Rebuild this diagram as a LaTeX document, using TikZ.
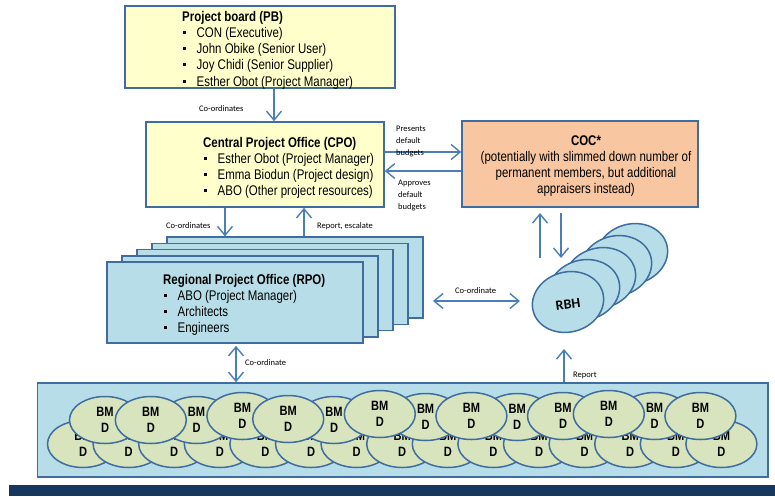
\documentclass[tikz,border=0pt]{standalone}
\usepackage{fontspec}
\setmainfont{Liberation Sans}
\newfontfamily\narrow{Liberation Sans}[FakeStretch=0.82]
\newfontfamily\lblfont{Carlito}
\usetikzlibrary{arrows.meta,shapes.geometric}

\definecolor{edge}{HTML}{3F6DA0}
\definecolor{arrowblue}{HTML}{4A7EBB}
\definecolor{paleyellow}{HTML}{FFFFCC}
\definecolor{peach}{HTML}{F8C6A0}
\definecolor{paleblue}{HTML}{B7DEE8}
\definecolor{palegreen}{HTML}{D7E4BD}
\definecolor{navy}{HTML}{17375E}

% square bullet followed by the indent of the item text
\newcommand\itm{\hspace*{1pt}\rule[3.5pt]{3pt}{3pt}\hspace*{10.5pt}}
\newcommand\topstrut{\rule{0pt}{11pt}}
\newcommand\lblstrut{\rule{0pt}{7pt}}

\begin{document}
\begin{tikzpicture}[x=1pt, y=-1pt,
  panel/.style={rectangle, draw=edge, line width=1.6pt, inner sep=0pt},
  boxtext/.style={anchor=north west, inner sep=0pt, align=left,
    font=\narrow\fontsize{14}{16.2}\selectfont},
  lbl/.style={inner sep=0pt, font=\lblfont\fontsize{8.5}{12}\selectfont},
  arr/.style={draw=arrowblue, line width=1.4pt,
    -{Straight Barb[length=9pt,width=15pt]}},
  darr/.style={draw=arrowblue, line width=1.4pt,
    {Straight Barb[length=9pt,width=15pt]}-{Straight Barb[length=9pt,width=15pt]}},
  bmd/.style={ellipse, draw=edge, line width=1.5pt, fill=palegreen,
    minimum width=71pt, minimum height=47pt, inner sep=0pt, align=center,
    font=\narrow\bfseries\fontsize{13.5}{16}\selectfont},
  rbhell/.style={ellipse, draw=edge, line width=1.5pt, fill=paleblue,
    minimum width=72pt, minimum height=60pt, rotate=15}]

\useasboundingbox (0,0) rectangle (775,496);

% ---- project board ----
\node[panel, fill=paleyellow, minimum width=270pt, minimum height=82pt] (pb) at (260,47) {};
\node[boxtext] (pbtext) at (182,10) {\topstrut\textbf{Project board (PB)}\\
  \itm CON (Executive)\\
  \itm John Obike (Senior User)\\
  \itm Joy Chidi (Senior Supplier)\\
  \itm Esther Obot (Project Manager)};

% ---- central project office ----
\node[panel, fill=paleyellow, minimum width=238pt, minimum height=85pt] (cpo) at (265,164.5) {};
\node[boxtext] (cpotext) at (203,136) {\topstrut\textbf{Central Project Office (CPO)}\\
  \itm Esther Obot (Project Manager)\\
  \itm Emma Biodun (Project design)\\
  \itm ABO (Other project resources)};

% ---- COC ----
\node[panel, fill=peach, minimum width=236pt, minimum height=86pt] (coc) at (580,164) {};
\node[boxtext, anchor=north, align=center] (coctext) at (586,134) {\topstrut\textbf{COC*}\\
  (potentially with slimmed down number of\\
  permanent members, but additional\\
  appraisers instead)};

% ---- regional project offices (stack) ----
\foreach \k in {4,3,2,1,0}
  \node[panel, fill=paleblue, minimum width=256pt, minimum height=81pt]
    (rpo\k) at ({235+15*\k},{302.5-6.2*\k}) {};
\node[boxtext] (rpotext) at (163,273) {\topstrut\textbf{Regional Project Office (RPO)}\\
  \itm ABO (Project Manager)\\
  \itm Architects\\
  \itm Engineers};

% ---- RBH stack ----
\foreach \k in {4,3,2,1,0}
  \node[rbhell] (rbh\k) at ({568+16*\k},{302-12*\k}) {};
\node[rotate=8, inner sep=0pt, font=\lblfont\bfseries\fontsize{14}{16}\selectfont]
  (rbhlabel) at (568,304) {RBH};

% ---- BMD container ----
\node[panel, fill=paleblue, minimum width=730.5pt, minimum height=94pt] (bmdbox) at (402.75,430) {};
\foreach \i in {0,...,14}
  \node[bmd] (bl\i) at ({83+45.6*\i},444) {BM\\D};
\foreach \i/\yy in {0/420,2/420,3/416,5/420,7/417,9/417,10/416,12/416,
                    1/420,4/419,6/414,8/416,11/414,13/416}
  \node[bmd] (bu\i) at ({105+45.8*\i},\yy) {BM\\D};

\fill[navy] (9,485) rectangle (775,496);

% ---- connectors ----
\draw[arr] ([xshift=14pt]pb.south) -- ([xshift=14pt]pb.south |- cpo.north);
\draw[arr] ([yshift=12.5pt]cpo.east) -- ([yshift=12.5pt]cpo.east -| coc.west);
\draw[arr] ([yshift=-6.5pt]cpo.east -| coc.west) -- ([yshift=-6.5pt]cpo.east);
\draw[arr] ([xshift=-40pt]cpo.south) -- ([xshift=-40pt]cpo.south |- rpo4.north);
\draw[arr] ([xshift=39pt]cpo.south |- rpo4.north) -- ([xshift=39pt]cpo.south);

\coordinate (upfoot) at (540,258);
\coordinate (uptip) at (540,213);
\coordinate (downtop) at (561,213);
\coordinate (downtip) at (561,258);
\draw[arr] (upfoot) -- (uptip);
\draw[arr] (downtop) -- (downtip);

\coordinate (rposide) at (433,301);
\coordinate (rbhside) at (520,301);
\draw[darr] (rposide) -- (rbhside);

\draw[darr] ([xshift=1pt,yshift=-2pt]rpo0.south) -- ([xshift=1pt]rpo0.south |- bmdbox.north);

\coordinate (reptip) at (564,349);
\draw[arr] (bmdbox.north -| reptip) -- (reptip);

% ---- connector labels ----
\node[lbl, anchor=base west] (l1) at (199,111) {Co-ordinates};
\node[lbl, anchor=north west, align=left] (l2) at (396,124) {\lblstrut Presents\\default\\budgets};
\node[lbl, anchor=north west, align=left] (l3) at (398,178) {\lblstrut Approves\\default\\budgets};
\node[lbl, anchor=base west] (l4) at (166,228) {Co-ordinates};
\node[lbl, anchor=base west] (l5) at (317,228) {Report, escalate};
\node[lbl, anchor=base west] (l6) at (455,293) {Co-ordinate};
\node[lbl, anchor=base west] (l7) at (245,365) {Co-ordinate};
\node[lbl, anchor=base west] (l8) at (573,377) {Report};

\end{tikzpicture}
\end{document}
